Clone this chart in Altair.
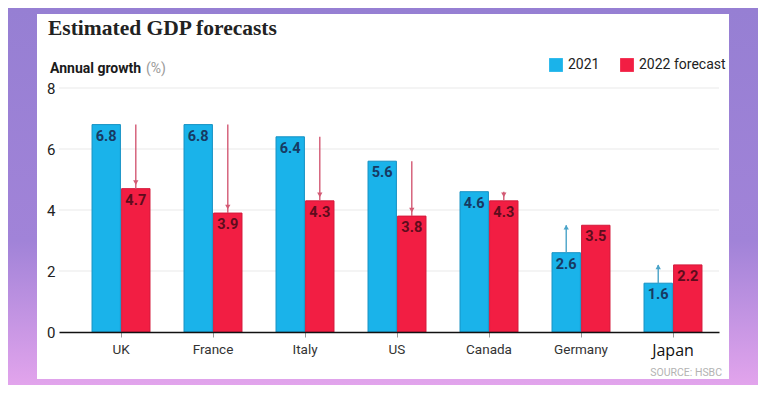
import altair as alt
import pandas as pd

# ---- data ----
countries = ["UK", "France", "Italy", "US", "Canada", "Germany", "Japan"]
gdp_2021 = [6.8, 6.8, 6.4, 5.6, 4.6, 2.6, 1.6]
gdp_2022 = [4.7, 3.9, 4.3, 3.8, 4.3, 3.5, 2.2]
series_names = ["2021", "2022 forecast"]
y_ticks = [0, 2, 4, 6, 8]
grid_values = [2, 4, 6, 8]

BLUE, RED = "#1ab3ea", "#f21e43"
COND = "Roboto, sans-serif"

rows = []
for c, a, b in zip(countries, gdp_2021, gdp_2022):
    rows.append({"country": c, "series": series_names[0], "value": a, "label": f"{a:.1f}"})
    rows.append({"country": c, "series": series_names[1], "value": b, "label": f"{b:.1f}"})
bars_df = pd.DataFrame(rows)

arrow_rows = []
for c, a, b in zip(countries, gdp_2021, gdp_2022):
    if b < a:
        arrow_rows.append({"country": c, "series": series_names[1], "start": a, "end": b, "dir": "down"})
    else:
        arrow_rows.append({"country": c, "series": series_names[0], "start": a, "end": b, "dir": "up"})
arrows_df = pd.DataFrame(arrow_rows)
grid_df = pd.DataFrame({"v": grid_values})
one = pd.DataFrame({"k": [0]})

# ---- shared scales / axes ----
x_axis = alt.Axis(
    title=None, labelAngle=0, grid=False, zindex=1,
    domainColor="#111111", domainWidth=1.6,
    tickColor="#9a9a9a", tickSize=5, tickWidth=1,
    labelPadding=5,
    labelFont={"condition": {"test": "datum.value === 'Japan'", "value": "Open Sans, DejaVu Sans, sans-serif"}, "value": COND},
    labelFontSize={"condition": {"test": "datum.value === 'Japan'", "value": 16}, "value": 13.5},
    labelColor={"condition": {"test": "datum.value === 'Japan'", "value": "#111111"}, "value": "#333333"},
)
x_scale = alt.Scale(paddingInner=0.37, paddingOuter=0.272, align=0.66)
X = alt.X("country:N", sort=countries, scale=x_scale, axis=x_axis)
XO = alt.XOffset("series:N", sort=series_names, scale=alt.Scale(paddingInner=0.04))

y_axis = alt.Axis(
    title=None, values=y_ticks, grid=False, domain=False, ticks=False, zindex=1,
    labelPadding=4, labelFont=COND, labelFontSize=15, labelColor="#222222",
)
y_scale = alt.Scale(domain=[0, 8], nice=False)

# ---- decoration ----
bg = alt.Chart(one).mark_rect(
    fill=alt.Gradient(
        gradient="linear", x1=0, x2=0, y1=0, y2=1,
        stops=[alt.GradientStop(offset=0, color="#967fd3"),
               alt.GradientStop(offset=0.62, color="#a183d8"),
               alt.GradientStop(offset=1, color="#e2a4ec")],
    )
).encode(x=alt.value(-51), x2=alt.value(699), y=alt.value(-80), y2=alt.value(297))

card = alt.Chart(one).mark_rect(fill="white").encode(
    x=alt.value(-22), x2=alt.value(670), y=alt.value(-74), y2=alt.value(291)
)

grid = alt.Chart(grid_df).mark_rule(color="#e9e9e9", strokeWidth=1).encode(
    y=alt.Y("v:Q", scale=y_scale, axis=y_axis), x=alt.value(0), x2=alt.value(660)
)

title = alt.Chart(one).mark_text(
    text="Estimated GDP forecasts", font="Liberation Serif, DejaVu Serif, serif",
    fontWeight="bold", fontSize=21.5, align="left", baseline="alphabetic", color="#222222",
).encode(x=alt.value(-11), y=alt.value(-53))

subtitle = alt.Chart(one).mark_text(
    text="Annual growth", font=COND, fontWeight="bold", fontSize=14,
    align="left", baseline="alphabetic", color="#1a1a1a",
).encode(x=alt.value(-9), y=alt.value(-15))

pct = alt.Chart(one).mark_text(
    text="(%)", font=COND, fontSize=14, align="left", baseline="alphabetic", color="#9a9a9a",
).encode(x=alt.value(87), y=alt.value(-15))

source = alt.Chart(one).mark_text(
    text="SOURCE: HSBC", font=COND, fontSize=10.5, align="right", baseline="alphabetic", color="#b3b3b3",
).encode(x=alt.value(663), y=alt.value(288))

# ---- data marks ----
bars = alt.Chart(bars_df).mark_bar(strokeWidth=1).encode(
    x=X, xOffset=XO,
    y=alt.Y("value:Q", scale=y_scale, axis=y_axis),
    color=alt.Color(
        "series:N", scale=alt.Scale(domain=series_names, range=[BLUE, RED]),
        legend=alt.Legend(
            title=None, orient="none", legendX=490, legendY=-30, direction="horizontal",
            symbolType="square", symbolSize=190, symbolStrokeWidth=0,
            labelFont=COND, labelFontSize=14, labelColor="#222222",
            labelOffset=5, columnPadding=20,
        ),
    ),
    stroke=alt.condition(alt.datum.series == "2021", alt.value("#1592c4"), alt.value("#d4193b")),
)

labels = alt.Chart(bars_df).mark_text(
    font=COND, fontWeight="bold", fontSize=14.5, baseline="top", dy=5,
).encode(
    x=X, xOffset=XO,
    y=alt.Y("value:Q", scale=y_scale, axis=y_axis),
    text="label:N",
    color=alt.condition(alt.datum.series == "2021", alt.value("#173a63"), alt.value("#5e0c1c")),
)

down_df = arrows_df[arrows_df["dir"] == "down"]
up_df = arrows_df[arrows_df["dir"] == "up"]

down_rule = alt.Chart(down_df).mark_rule(color="#d35a74", strokeWidth=1.4).encode(
    x=X, xOffset=XO, y=alt.Y("start:Q", scale=y_scale, axis=y_axis), y2=alt.Y2("end:Q"),
)
down_head = alt.Chart(down_df).mark_point(
    shape="triangle-down", filled=True, size=28, color="#d35a74", opacity=1, yOffset=-6,
).encode(x=X, xOffset=XO, y=alt.Y("end:Q", scale=y_scale, axis=y_axis))

up_rule = alt.Chart(up_df).mark_rule(color="#4aa3c8", strokeWidth=1.4).encode(
    x=X, xOffset=XO, y=alt.Y("start:Q", scale=y_scale, axis=y_axis), y2=alt.Y2("end:Q"),
)
up_head = alt.Chart(up_df).mark_point(
    shape="triangle-up", filled=True, size=28, color="#4aa3c8", opacity=1, yOffset=2,
).encode(x=X, xOffset=XO, y=alt.Y("end:Q", scale=y_scale, axis=y_axis))

chart = alt.layer(
    bg, card, grid, bars, labels, down_rule, down_head, up_rule, up_head,
    title, subtitle, pct, source,
).properties(
    width=660, height=244,
    padding={"left": 51, "top": 80, "right": 39, "bottom": 53},
    autosize=alt.AutoSizeParams(type="none"),
).configure_view(stroke=None)

chart.save("out.html", embed_options={"renderer": "svg", "actions": False})
